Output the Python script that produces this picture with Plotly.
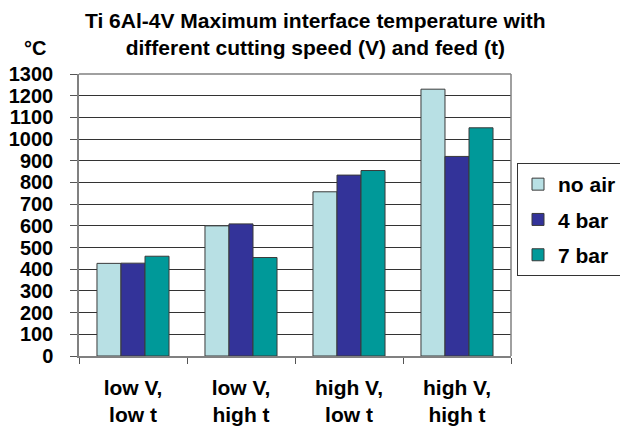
import plotly.graph_objects as go

categories = ["low V,<br>low t", "low V,<br>high t", "high V,<br>low t", "high V,<br>high t"]
no_air = [427, 600, 757, 1230]
bar4 = [428, 609, 834, 920]
bar7 = [460, 454, 855, 1052]
series = [("no air", no_air, "#B8E0E4"), ("4 bar", bar4, "#333399"), ("7 bar", bar7, "#009999")]
y_ticks = list(range(0, 1301, 100))

FONT = "Liberation Sans, Arial, sans-serif"
PLOT_LEFT, PLOT_RIGHT = 79, 511
PLOT_TOP, PLOT_BOTTOM = 74, 356
PLOT_W = PLOT_RIGHT - PLOT_LEFT
PLOT_H = PLOT_BOTTOM - PLOT_TOP


def px_x(px):
    """Pixel column -> paper x coordinate."""
    return (px - PLOT_LEFT) / PLOT_W


def px_y(px):
    """Pixel row from the top of the figure -> paper y coordinate."""
    return (PLOT_BOTTOM - px) / PLOT_H


fig = go.Figure()
for name, vals, color in series:
    fig.add_trace(go.Bar(
        x=categories, y=vals, name=name, legendgroup=name,
        marker=dict(color=color, line=dict(color="#3a3a3a", width=1)),
    ))

fig.update_layout(
    width=620, height=429,
    margin=dict(l=PLOT_LEFT, r=620 - PLOT_RIGHT, t=PLOT_TOP, b=429 - PLOT_BOTTOM,
                autoexpand=False),
    paper_bgcolor="white", plot_bgcolor="white",
    barmode="group", bargap=0.333, bargroupgap=0,
    font=dict(family=FONT, color="black"),
    legend=dict(
        x=px_x(517), xanchor="left", y=px_y(163), yanchor="top",
        bordercolor="#333333", borderwidth=1, bgcolor="white",
        font=dict(size=21, family=FONT, color="black", weight="bold"),
        itemwidth=30, tracegroupgap=5,
    ),
    showlegend=True,
)

fig.update_xaxes(
    type="category", tickson="boundaries", automargin=False,
    ticks="outside", ticklen=6, tickcolor="#555555",
    showline=True, linecolor="#808080", linewidth=1.5,
    showgrid=False, ticklabelstandoff=12,
    tickfont=dict(size=21, family=FONT, color="black", weight="bold"),
)
fig.update_yaxes(
    range=[0, 1300], tickvals=y_ticks, automargin=False,
    ticks="outside", ticklen=7, tickcolor="#555555",
    showline=True, linecolor="#808080", linewidth=1.5,
    showgrid=True, gridcolor="#333333", gridwidth=1,
    ticklabelstandoff=13,
    tickfont=dict(size=20, family=FONT, color="black", weight="bold"),
)

# right and top edges of the plot frame
fig.add_shape(type="line", xref="paper", yref="paper", x0=1, x1=1, y0=0, y1=1,
              line=dict(color="#808080", width=1.5))
fig.add_shape(type="line", xref="paper", yref="paper", x0=0, x1=1, y0=1, y1=1,
              line=dict(color="#808080", width=1.5))

# chart title, two lines
fig.add_annotation(
    text="Ti 6Al-4V Maximum interface temperature with<br>different cutting speed (V) and feed (t)",
    xref="paper", yref="paper", x=px_x(315), y=px_y(61),
    xanchor="center", yanchor="bottom", showarrow=False,
    font=dict(size=21, family=FONT, color="black", weight="bold"),
)
# unit label above the value axis
fig.add_annotation(
    text="°C", xref="paper", yref="paper",
    x=px_x(35), y=px_y(61), xanchor="center", yanchor="bottom", showarrow=False,
    font=dict(size=20, family=FONT, color="black", weight="bold"),
)

fig.write_html("out.html")
